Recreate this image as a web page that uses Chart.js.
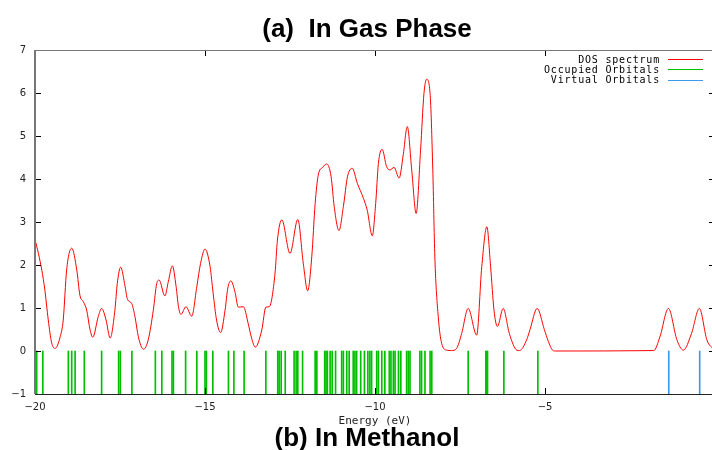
<!DOCTYPE html>
<html>
<head>
<meta charset="utf-8">
<script src="https://cdn.jsdelivr.net/npm/chart.js@4.4.1/dist/chart.umd.min.js"></script>
<style>
  html, body { margin: 0; padding: 0; background: #fff; overflow: hidden; }
  #wrap { position: relative; width: 712px; height: 450px; overflow: hidden; }
  canvas { position: absolute; left: 0; top: 0; }
  .title { position: absolute; left: 0; width: 734px; text-align: center; white-space: pre;
           font: bold 26px "Liberation Sans", Arial, sans-serif; line-height: 26px; color: #000; }
</style>
</head>
<body>
<div id="wrap">
  <canvas id="dos" width="715" height="450"></canvas>
  <div class="title" style="top:15px">(a)  In Gas Phase</div>
  <div class="title" style="top:424px">(b) In Methanol</div>
</div>
<script>
// DOS curve (energy in eV, density)
const dosEnergy = [
  -20.00, -19.90, -19.80, -19.71, -19.61, -19.51, -19.41, -19.26, -19.17, -19.07,
  -18.92, -18.77, -18.68, -18.58, -18.48, -18.38, -18.30, -18.14, -18.04, -17.91,
  -17.79, -17.65, -17.58, -17.48, -17.35, -17.28, -17.16, -17.06, -16.96, -16.81,
  -16.67, -16.52, -16.42, -16.35, -16.18, -16.08, -15.96, -15.85, -15.78, -15.71,
  -15.56, -15.39, -15.24, -15.13, -15.00, -14.85, -14.76, -14.66, -14.54, -14.41,
  -14.33, -14.24, -14.12, -14.02, -13.87, -13.73, -13.63, -13.52, -13.33, -13.21,
  -13.11, -12.94, -12.87, -12.74, -12.50, -12.27, -12.11, -11.98, -11.86, -11.76,
  -11.67, -11.54, -11.42, -11.29, -11.20, -11.06, -10.93, -10.81, -10.67, -10.52,
  -10.34, -10.23, -10.08, -9.98, -9.90, -9.79, -9.66, -9.56, -9.44, -9.29,
  -9.17, -9.05, -8.92, -8.79, -8.66, -8.56, -8.48, -8.38, -8.30, -8.24,
  -8.14, -8.04, -7.89, -7.75, -7.60, -7.45, -7.26, -7.01, -6.86, -6.71,
  -6.60, -6.50, -6.40, -6.23, -6.05, -5.83, -5.75, -5.54, -5.44, -5.23,
  -5.02, -4.90, -4.78, -4.70, -1.80, -1.62, -1.37, -1.12, -0.93, -0.69,
  -0.46, -0.24, -0.13, 0.00
];
const dosValue = [
  2.59, 2.27, 1.88, 1.42, 0.72, 0.19, 0.06, 0.33, 0.72, 1.88,
  2.39, 1.88, 1.30, 1.15, 0.95, 0.49, 0.32, 0.80, 0.99, 0.72,
  0.30, 0.95, 1.57, 1.95, 1.50, 1.20, 1.11, 0.80, 0.33, 0.04,
  0.26, 0.95, 1.57, 1.65, 1.28, 1.61, 1.98, 1.50, 1.03, 0.85,
  1.03, 0.81, 1.50, 2.04, 2.37, 1.96, 1.34, 0.72, 0.43, 0.95,
  1.46, 1.63, 1.38, 1.02, 1.03, 0.64, 0.30, 0.09, 0.49, 1.02,
  1.03, 1.81, 2.58, 3.05, 2.27, 3.06, 2.04, 1.40, 2.19, 3.43,
  4.09, 4.27, 4.35, 4.05, 3.36, 2.80, 3.36, 4.05, 4.25, 3.90,
  3.55, 3.28, 2.68, 3.43, 4.36, 4.69, 4.29, 4.21, 4.27, 4.02,
  4.56, 5.22, 4.21, 3.20, 4.67, 5.99, 6.32, 5.99, 4.21, 2.19,
  0.80, 0.18, 0.02, 0.01, 0.06, 0.41, 0.99, 0.37, 1.96, 2.89,
  1.96, 0.95, 0.57, 0.99, 0.41, 0.02, 0.01, 0.26, 0.50, 0.99,
  0.50, 0.22, 0.02, 0.00, 0.01, 0.33, 0.99, 0.26, 0.02, 0.41,
  0.99, 0.26, 0.11, 0.05
];

// orbital energies (eV)
const occupiedOrbitals = [
  -19.95, -19.77, -19.02, -18.92, -18.82, -18.55, -18.04, -17.54, -17.49, -17.15,
  -16.46, -16.27, -15.97, -15.93, -15.57, -15.24, -15.00, -14.96, -14.77, -14.31,
  -14.15, -13.85, -13.21, -12.86, -12.82, -12.76, -12.64, -12.38, -12.32, -12.27,
  -12.13, -11.76, -11.71, -11.48, -11.44, -11.40, -11.32, -11.26, -11.16, -10.98,
  -10.93, -10.83, -10.76, -10.64, -10.59, -10.54, -10.42, -10.31, -10.21, -10.15,
  -10.10, -9.95, -9.90, -9.80, -9.71, -9.58, -9.53, -9.46, -9.41, -9.31,
  -9.24, -9.07, -9.02, -8.97, -8.68, -8.63, -8.53, -8.38, -8.33, -7.26,
  -6.74, -6.71, -6.69, -6.21, -5.21
];
const virtualOrbitals = [-1.36, -0.45];

const xTickValues = [-20, -15, -10, -5];
const yTickValues = [-1, 0, 1, 2, 3, 4, 5, 6, 7];
const legendLabels = ['DOS spectrum', 'Occupied Orbitals', 'Virtual Orbitals'];
const seriesColors = ['#ff0000', '#00c000', '#3a9af0'];

const minus = v => String(v).replace('-', '\u2212');

// gnuplot-like frame: inward ticks on all sides + legend in the top right
const gnuplotFrame = {
  id: 'gnuplotFrame',
  afterDatasetsDraw(chart) {
    const { ctx, chartArea: a, scales: { x, y } } = chart;
    ctx.save();
    ctx.lineWidth = 1;
    ctx.strokeStyle = '#000';
    ctx.beginPath();
    xTickValues.forEach(v => {
      const px = Math.round(x.getPixelForValue(v)) + 0.5;
      ctx.moveTo(px, a.bottom); ctx.lineTo(px, a.bottom - 6);
      ctx.moveTo(px, a.top); ctx.lineTo(px, a.top + 6);
    });
    yTickValues.forEach(v => {
      const py = Math.round(y.getPixelForValue(v)) + 0.5;
      ctx.moveTo(a.left, py); ctx.lineTo(a.left + 6, py);
      ctx.moveTo(a.right, py); ctx.lineTo(a.right - 6, py);
    });
    ctx.stroke();

    ctx.strokeStyle = '#777';
    ctx.lineWidth = 2;
    ctx.beginPath(); ctx.moveTo(a.left, a.top); ctx.lineTo(a.left, a.bottom); ctx.stroke();
    ctx.lineWidth = 1;
    ctx.beginPath(); ctx.moveTo(a.left, a.top + 0.5); ctx.lineTo(a.right, a.top + 0.5); ctx.stroke();
    ctx.strokeStyle = '#222';
    ctx.beginPath(); ctx.moveTo(a.left, a.bottom + 0.5); ctx.lineTo(a.right, a.bottom + 0.5); ctx.stroke();

    ctx.font = '10px "DejaVu Sans Mono", monospace';
    ctx.letterSpacing = '0.8px';
    ctx.textAlign = 'right';
    ctx.textBaseline = 'middle';
    ctx.fillStyle = '#000';
    legendLabels.forEach((label, i) => {
      const ly = 60 + i * 10.3;
      ctx.fillText(label, 660, ly);
      ctx.strokeStyle = seriesColors[i];
      ctx.beginPath(); ctx.moveTo(668, Math.round(ly) - 0.5); ctx.lineTo(703, Math.round(ly) - 0.5); ctx.stroke();
    });
    ctx.restore();
  }
};

const tickFont = { family: '"DejaVu Sans", sans-serif', size: 10 };

new Chart(document.getElementById('dos'), {
  type: 'line',
  data: {
    datasets: [{
      label: legendLabels[0],
      data: dosEnergy.map((e, i) => ({ x: e, y: dosValue[i] })),
      borderColor: seriesColors[0],
      borderWidth: 1,
      pointRadius: 0,
      fill: false,
      cubicInterpolationMode: 'monotone'
    }, {
      type: 'bar',
      label: legendLabels[1],
      data: occupiedOrbitals.map(e => ({ x: e, y: [-1, 0] })),
      backgroundColor: seriesColors[1],
      borderWidth: 0,
      barThickness: 1,
      grouped: false
    }, {
      type: 'bar',
      label: legendLabels[2],
      data: virtualOrbitals.map(e => ({ x: e, y: [-1, 0] })),
      backgroundColor: seriesColors[2],
      borderWidth: 0,
      barThickness: 1,
      grouped: false
    }]
  },
  options: {
    responsive: false,
    animation: false,
    events: [],
    layout: { padding: { top: 50, left: 0, right: 0, bottom: 0 } },
    plugins: { legend: { display: false }, tooltip: { enabled: false } },
    scales: {
      x: {
        type: 'linear',
        min: -20,
        max: 0,
        offset: false,
        grid: { display: false, drawTicks: false },
        border: { display: false },
        afterBuildTicks: scale => { scale.ticks = xTickValues.map(v => ({ value: v })); },
        afterFit: scale => { scale.height = 56; },
        ticks: { font: tickFont, color: '#222', padding: 7, maxRotation: 0, autoSkip: false, callback: minus },
        title: {
          display: true,
          text: 'Energy (eV)',
          font: { family: '"DejaVu Sans Mono", monospace', size: 11 },
          color: '#222',
          padding: { top: 0, bottom: 22 }
        }
      },
      y: {
        min: -1,
        max: 7,
        grid: { display: false, drawTicks: false },
        border: { display: false },
        afterBuildTicks: scale => { scale.ticks = yTickValues.map(v => ({ value: v })); },
        afterFit: scale => { scale.width = 35; },
        ticks: { font: tickFont, color: '#222', padding: 9, callback: minus }
      }
    }
  },
  plugins: [gnuplotFrame]
});
</script>
</body>
</html>
